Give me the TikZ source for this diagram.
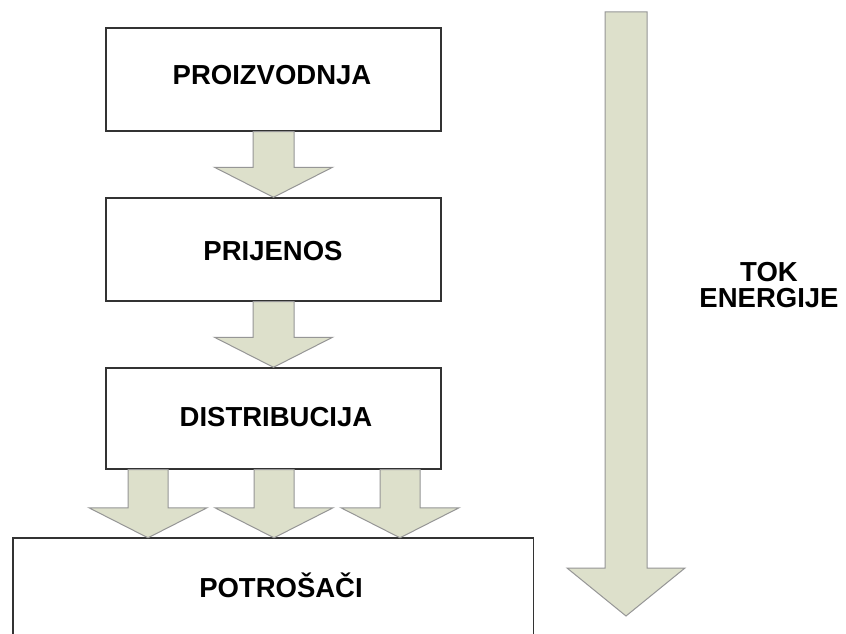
\documentclass[tikz,border=0pt]{standalone}
\usepackage{fontspec}
\setmainfont{Liberation Sans}
\usetikzlibrary{calc}
\definecolor{arrfill}{RGB}{221,224,203}
\definecolor{arrline}{RGB}{150,150,150}
\tikzset{
  stage/.style={draw=black!80, line width=1.4pt, minimum width=335pt, minimum height=103pt, inner sep=0pt},
  lbl/.style={font=\fontsize{27.5}{26}\selectfont\bfseries, inner sep=0pt, anchor=center},
  arr/.style={fill=arrfill, draw=arrline, line width=1pt, line join=miter}
}
% #1 start, #2 tip, #3 shaft half width, #4 head half width, #5 head length
\newcommand\blockarrow[5]{%
  \path[arr] let \p1=(#1), \p2=(#2) in
    (\x1-#3pt,\y1) -- (\x1+#3pt,\y1) -- (\x1+#3pt,\y2+#5pt) -- (\x1+#4pt,\y2+#5pt)
    -- (\x1,\y2) -- (\x1-#4pt,\y2+#5pt) -- (\x1-#3pt,\y2+#5pt) -- cycle;}
\begin{document}
\begin{tikzpicture}[x=1pt,y=-1pt]
\useasboundingbox (0,0) rectangle (846,634);
\fill[white] (0,0) rectangle (846,634);
% boxes
\node[stage, minimum height=103pt] (p) at (273.5,79.5) {};
\node[stage, minimum height=103pt] (r) at (273.5,249.5) {};
\node[stage, minimum height=101pt] (d) at (273.5,418.5) {};
\node[minimum width=520pt, minimum height=100pt, inner sep=0pt] (c) at (273,588) {};
\draw[draw=black!80, line width=1.4pt] (c.south west) -- (c.north west) -- (c.north east) -- (c.south east);
% labels
\node[lbl] (pt) at (272,75) {PROIZVODNJA};
\node[lbl] (rt) at (273,251) {PRIJENOS};
\node[lbl] (dt) at (276,417) {DISTRIBUCIJA};
\node[lbl] (ct) at (281,585) {POTROŠAČI};
\node[lbl, align=center, font=\fontsize{27.5}{26.5}\selectfont\bfseries] (tok) at (769,285) {TOK\\ENERGIJE};
% arrows between stages
\blockarrow{p.south}{r.north}{20.5}{59}{30}
\blockarrow{r.south}{d.north}{20.5}{59}{30}
\coordinate (a1) at ($(d.south)+(-125.5,0)$);
\coordinate (a2) at ($(d.south)+(0.5,0)$);
\coordinate (a3) at ($(d.south)+(126.5,0)$);
\blockarrow{a1}{a1 |- c.north}{20}{59}{30}
\blockarrow{a2}{a2 |- c.north}{20}{59}{30}
\blockarrow{a3}{a3 |- c.north}{20}{59}{30}
% energy flow arrow
\coordinate (bt) at (626,12);
\coordinate (bb) at (626,616);
\blockarrow{bt}{bb}{21}{59}{48}
\end{tikzpicture}
\end{document}
